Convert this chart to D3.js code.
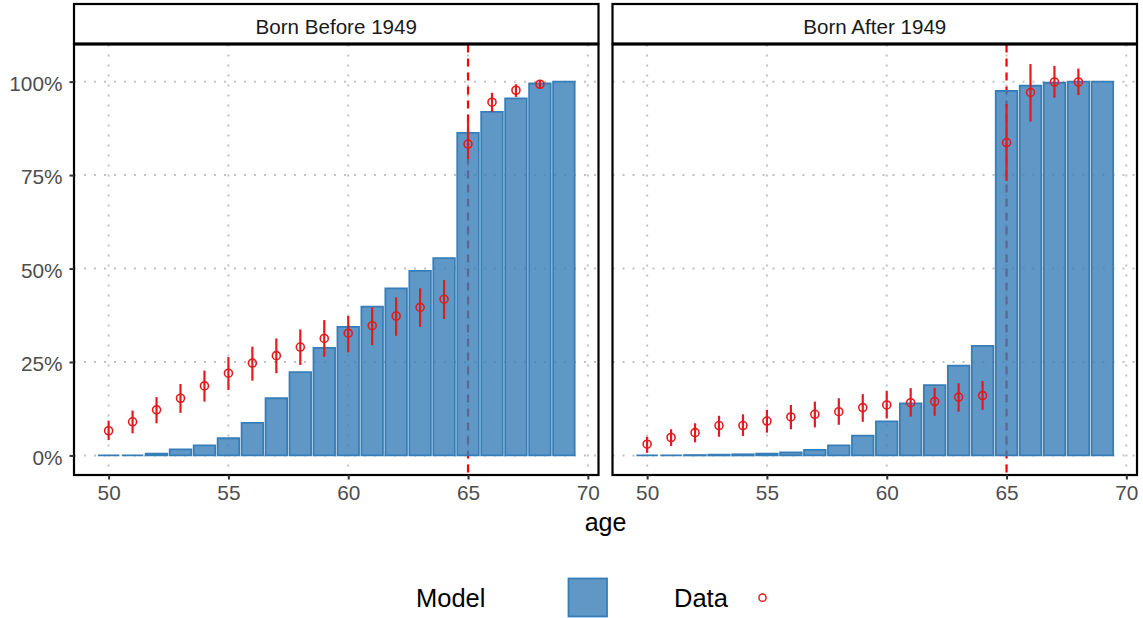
<!DOCTYPE html>
<html>
<head>
<meta charset="utf-8">
<script src="https://cdn.jsdelivr.net/npm/d3@7"></script>
<style>
  html, body { margin: 0; padding: 0; background: #fff; }
  svg { display: block; font-family: "Liberation Sans", Arial, Helvetica, sans-serif; }
</style>
</head>
<body>
<svg id="chart" width="1143" height="618"></svg>
<script>
// ---------------- data ----------------
const panels = ["Born Before 1949", "Born After 1949"];
const ages = [50,51,52,53,54,55,56,57,58,59,60,61,62,63,64,65,66,67,68,69];

const modelBefore = [0.000,0.000,0.005,0.016,0.027,0.046,0.087,0.153,0.223,0.288,0.344,0.398,0.447,0.494,0.528,0.863,0.919,0.955,0.995,1.000];
const modelAfter  = [0.000,0.000,0.001,0.002,0.003,0.005,0.008,0.015,0.027,0.053,0.091,0.139,0.188,0.240,0.293,0.975,0.989,0.997,1.000,1.000];

const dataAges = [50,51,52,53,54,55,56,57,58,59,60,61,62,63,64,65,66,67,68];
const dataBefore      = [0.066,0.090,0.122,0.153,0.186,0.220,0.247,0.267,0.290,0.313,0.327,0.347,0.373,0.396,0.418,0.833,0.945,0.977,0.993];
const dataBeforeLow   = [0.041,0.059,0.086,0.114,0.144,0.175,0.200,0.220,0.242,0.264,0.276,0.295,0.320,0.344,0.365,0.793,0.919,0.959,0.982];
const dataBeforeHigh  = [0.093,0.120,0.156,0.191,0.227,0.263,0.291,0.313,0.337,0.362,0.373,0.396,0.423,0.447,0.469,0.897,0.970,0.993,1.002];
const dataAfter       = [0.030,0.048,0.061,0.080,0.080,0.092,0.103,0.110,0.117,0.128,0.135,0.141,0.144,0.156,0.160,0.837,0.971,0.999,0.999];
const dataAfterLow    = [0.007,0.025,0.035,0.050,0.052,0.061,0.070,0.075,0.082,0.090,0.099,0.104,0.106,0.117,0.122,0.734,0.893,0.957,0.964];
const dataAfterHigh   = [0.050,0.070,0.086,0.106,0.110,0.122,0.135,0.144,0.153,0.164,0.173,0.180,0.181,0.193,0.199,0.940,1.047,1.042,1.035];

const vlineAge = 65;
const xTicks = [50,55,60,65,70];
const yTicks = [0,0.25,0.5,0.75,1];
const legendTitles = ["Model", "Data"];

// ---------------- styles ----------------
const blue = "#377EB8", red = "#E41A1C";
const barWidth = 0.9;

const svg = d3.select("#chart");

// layout
const panelTop = 44.5, panelBottom = 475;
const stripTop = 4;
const panelX = [[74, 598.5], [612.5, 1137]];

const seriesModel = [modelBefore, modelAfter];
const seriesData = [
  {m: dataBefore, lo: dataBeforeLow, hi: dataBeforeHigh},
  {m: dataAfter,  lo: dataAfterLow,  hi: dataAfterHigh}
];

// shared scales with ggplot-like 5% expansion
const xmin = d3.min(ages) - barWidth/2, xmax = d3.max(ages) + barWidth/2;
const xexp = (xmax - xmin) * 0.05;
const ymax = d3.max([d3.max(modelBefore), d3.max(modelAfter), d3.max(dataBeforeHigh), d3.max(dataAfterHigh)]);
const ymin = 0;
const yexp = (ymax - ymin) * 0.05;
const y = d3.scaleLinear().domain([ymin - yexp, ymax + yexp]).range([panelBottom, panelTop]);

const tickFont = 20.8;

panels.forEach((title, pi) => {
  const [x0, x1] = panelX[pi];
  const x = d3.scaleLinear().domain([xmin - xexp, xmax + xexp]).range([x0, x1]);
  const g = svg.append("g");

  // grid
  g.selectAll(".gy").data(yTicks).enter().append("line")
    .attr("x1", x0).attr("x2", x1)
    .attr("y1", d => y(d)).attr("y2", d => y(d))
    .attr("stroke", "#c2c2c2").attr("stroke-width", 2)
    .attr("stroke-dasharray", "2,8");
  g.selectAll(".gx").data(xTicks).enter().append("line")
    .attr("x1", d => x(d)).attr("x2", d => x(d))
    .attr("y1", panelTop).attr("y2", panelBottom)
    .attr("stroke", "#c2c2c2").attr("stroke-width", 2)
    .attr("stroke-dasharray", "2,8");

  // vline
  g.append("line")
    .attr("x1", x(vlineAge)).attr("x2", x(vlineAge))
    .attr("y1", panelTop).attr("y2", panelBottom)
    .attr("stroke", "#FF0000").attr("stroke-width", 2.2)
    .attr("stroke-dasharray", "8,6");

  // bars (path so zero-height bars still show their outline)
  const bars = ages.map((a, i) => ({a, v: seriesModel[pi][i]}));
  g.selectAll(".bar").data(bars).enter().append("path")
    .attr("d", d => {
      const bx = x(d.a - barWidth/2), bw = x(d.a + barWidth/2) - bx;
      const by = y(d.v), bh = y(0) - by;
      return `M${bx},${by}h${bw}v${bh}h${-bw}Z`;
    })
    .attr("fill", blue).attr("fill-opacity", 0.8)
    .attr("stroke", blue).attr("stroke-width", 1.8);

  // data points
  const sd = seriesData[pi];
  const pts = dataAges.map((a, i) => ({a, m: sd.m[i], lo: sd.lo[i], hi: sd.hi[i]}));
  g.selectAll(".eb").data(pts).enter().append("line")
    .attr("x1", d => x(d.a)).attr("x2", d => x(d.a))
    .attr("y1", d => y(d.lo)).attr("y2", d => y(d.hi))
    .attr("stroke", red).attr("stroke-width", 2.2);
  g.selectAll(".pt").data(pts).enter().append("circle")
    .attr("cx", d => x(d.a)).attr("cy", d => y(d.m)).attr("r", 4)
    .attr("fill", "none").attr("stroke", red).attr("stroke-width", 1.6);

  // panel border
  g.append("rect")
    .attr("x", x0).attr("y", panelTop).attr("width", x1 - x0).attr("height", panelBottom - panelTop)
    .attr("fill", "none").attr("stroke", "#000").attr("stroke-width", 2.2);

  // strip
  g.append("rect")
    .attr("x", x0).attr("y", stripTop).attr("width", x1 - x0).attr("height", panelTop - stripTop - 1)
    .attr("fill", "#fff").attr("stroke", "#000").attr("stroke-width", 2.2);
  g.append("text")
    .attr("x", (x0 + x1) / 2).attr("y", 34)
    .attr("text-anchor", "middle").attr("font-size", 20.6).attr("fill", "#1a1a1a")
    .text(title);

  // x axis
  const xa = g.append("g").attr("transform", `translate(0,${panelBottom})`)
    .call(d3.axisBottom(x).tickValues(xTicks).tickSize(4.5).tickPadding(6).tickFormat(d3.format("d")));
  xa.select(".domain").remove();
  xa.selectAll(".tick line").attr("stroke", "#333").attr("stroke-width", 2);
  xa.selectAll(".tick text").attr("font-size", tickFont).attr("fill", "#4d4d4d")
    .attr("font-family", "Liberation Sans, Arial, sans-serif");

  if (pi === 0) {
    const ya = g.append("g").attr("transform", `translate(${x0},0)`)
      .call(d3.axisLeft(y).tickValues(yTicks).tickSize(4.5).tickPadding(7).tickFormat(d3.format(".0%")));
    ya.select(".domain").remove();
    ya.selectAll(".tick line").attr("stroke", "#333").attr("stroke-width", 2);
    ya.selectAll(".tick text").attr("font-size", tickFont).attr("fill", "#4d4d4d")
      .attr("dy", "0.42em")
      .attr("font-family", "Liberation Sans, Arial, sans-serif");
  }
});

// axis title
svg.append("text")
  .attr("x", (panelX[0][0] + panelX[1][1]) / 2).attr("y", 531)
  .attr("text-anchor", "middle").attr("font-size", 25).attr("fill", "#000")
  .text("age");

// legend
svg.append("text").attr("x", 416).attr("y", 606.5).attr("font-size", 25.5).attr("fill", "#000").text(legendTitles[0]);
svg.append("rect").attr("x", 568.5).attr("y", 578.5).attr("width", 38.5).attr("height", 38)
  .attr("fill", blue).attr("fill-opacity", 0.8).attr("stroke", blue).attr("stroke-width", 1.8);
svg.append("text").attr("x", 674).attr("y", 606.5).attr("font-size", 25.5).attr("fill", "#000").text(legendTitles[1]);
svg.append("circle").attr("cx", 762.5).attr("cy", 597.7).attr("r", 3.6)
  .attr("fill", "none").attr("stroke", red).attr("stroke-width", 1.5);
</script>
</body>
</html>
